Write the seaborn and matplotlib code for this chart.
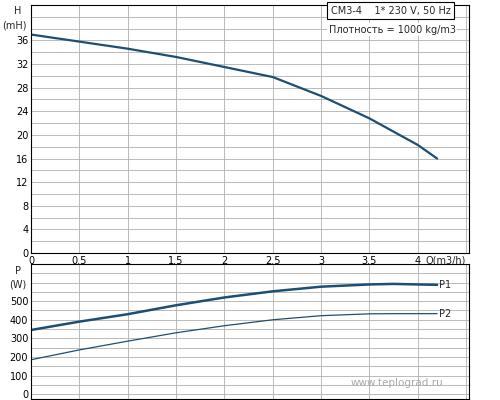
import numpy as np
import seaborn as sns
from matplotlib import pyplot as plt

q_h  = [0, 0.5, 1, 1.5, 2, 2.5, 3, 3.5, 4, 4.2]
head = [37, 35.8, 34.6, 33.2, 31.5, 29.8, 26.6, 22.8, 18.3, 16.0]

q_p = [0, 0.5, 1, 1.5, 2, 2.5, 3, 3.5, 3.75, 4, 4.2]
p1  = [345, 390, 430, 478, 520, 553, 578, 590, 593, 590, 588]
p2  = [185, 238, 285, 330, 368, 400, 422, 432, 433, 433, 433]

sns.set_style('white')
plt.rcParams['font.family'] = ['DejaVu Sans']
COL = '#1d4e74'
GRID = '#b0b0b0'

fig = plt.figure(figsize=(5, 4), dpi=100)
ax1 = fig.add_axes([0.062, 0.3675, 0.876, 0.62])
ax2 = fig.add_axes([0.062, 0.003, 0.876, 0.337])

sns.lineplot(x=q_h, y=head, ax=ax1, color=COL, linewidth=1.6)
ax1.set_xlim(0, 4.53)
ax1.set_ylim(0, 42)
ax1.set_xticks(np.arange(0, 4.51, 0.5))
ax1.set_yticks(np.arange(0, 42, 2), minor=True)
ax1.set_yticks(np.arange(0, 37, 4))
ax1.set_xticklabels(['0', '0.5', '1', '1.5', '2', '2.5', '3', '3.5', '4', ''])
ax1.text(4.08, -1.3, 'Q(m3/h)', fontsize=7, va='center')
ax1.text(-0.1, 41, 'H', fontsize=7, ha='right', va='center')
ax1.text(-0.05, 38.5, '(mH)', fontsize=7, ha='right', va='center')
ax1.text(3.1, 41, 'CM3-4    1* 230 V, 50 Hz', fontsize=7, va='center',
         bbox=dict(facecolor='white', edgecolor='black', linewidth=0.8, pad=2.5))
ax1.text(3.08, 37.8, 'Плотность = 1000 kg/m3', fontsize=7, va='center',
         bbox=dict(facecolor='white', edgecolor='none', pad=1))

sns.lineplot(x=q_p, y=p1, ax=ax2, color=COL, linewidth=1.8)
sns.lineplot(x=q_p, y=p2, ax=ax2, color=COL, linewidth=0.9)
ax2.set_xlim(0, 4.53)
ax2.set_ylim(-25, 700)
ax2.set_xticks(np.arange(0, 4.51, 0.5))
ax2.set_xticklabels([])
ax2.set_yticks(np.arange(0, 501, 100))
ax2.set_yticks(np.arange(0, 700, 50), minor=True)
ax2.text(4.22, p1[-1], 'P1', fontsize=7, va='center')
ax2.text(4.22, p2[-1], 'P2', fontsize=7, va='center')
ax2.text(-0.1, 660, 'P', fontsize=7, ha='right', va='center')
ax2.text(-0.05, 590, '(W)', fontsize=7, ha='right', va='center')
ax2.text(3.3, 60, 'www.teplograd.ru', fontsize=7.5, color='#aaaaaa', va='center')

for ax in (ax1, ax2):
    ax.grid(True, which='both', color=GRID, linewidth=0.6)
    ax.tick_params(axis='both', which='both', length=0, labelsize=7, pad=2,
                   labelcolor='black')
    for s in ax.spines.values():
        s.set_color('black')
        s.set_linewidth(0.8)
    ax.set_axisbelow(True)

fig.savefig('out.png', dpi=100)
